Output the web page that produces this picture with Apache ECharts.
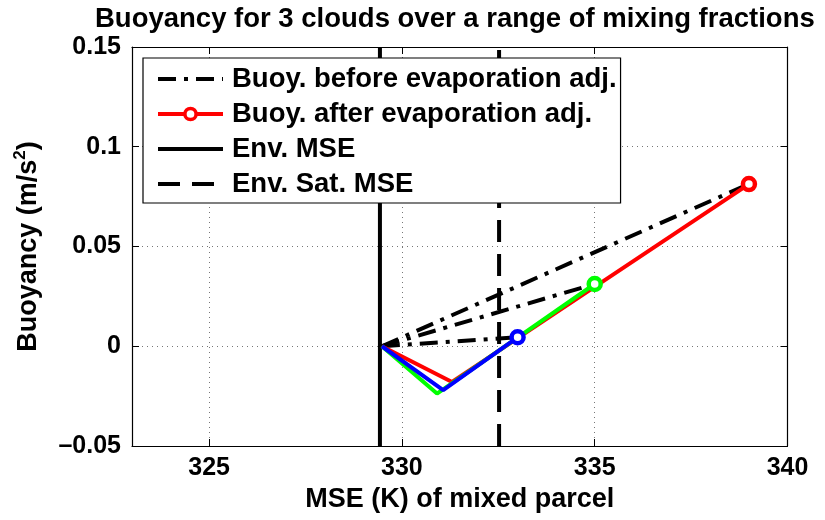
<!DOCTYPE html>
<html>
<head>
<meta charset="utf-8">
<script src="https://cdn.jsdelivr.net/npm/echarts@6/dist/echarts.min.js"></script>
<style>html,body{margin:0;padding:0;background:#fff}#c{width:825px;height:520px}</style>
</head>
<body>
<div id="c"></div>
<script>
// ---- data ----
const startMSE = 329.48, startBuoy = 0;
const redMSE   = [startMSE, 331.30, 339.0];
const redBuoy  = [startBuoy, -0.0179, 0.0813];
const greenMSE = [startMSE, 330.91, 335.0];
const greenBuoy= [startBuoy, -0.0237, 0.0312];
const blueMSE  = [startMSE, 331.07, 333.0];
const blueBuoy = [startBuoy, -0.0220, 0.0045];
const envMSE = 329.43;
const envSatMSE = 332.52;
const xRange = [323, 340];
const yRange = [-0.05, 0.15];
const yTickStep = 0.05;
const legendNames = ['Buoy. before evaporation adj.', 'Buoy. after evaporation adj.', 'Env. MSE', 'Env. Sat. MSE'];

const FONT = "'Liberation Sans', Arial, Helvetica, sans-serif";
const DASHDOT = [18, 8, 4, 8];
const DASH = [22, 12];
function afterData(xs, ys) {
  return xs.map((x, i) => ({ value: [x, ys[i]], symbol: i === xs.length - 1 ? 'circle' : 'none' }));
}
function beforeData(xs, ys) {
  return [[xs[0], ys[0]], [xs[xs.length - 1], ys[ys.length - 1]]];
}

const chart = echarts.init(document.getElementById('c'), null, { renderer: 'canvas' });

const afterSeries = (name, color, xs, ys) => ({
  type: 'line', name, data: afterData(xs, ys), symbol: 'circle', symbolSize: 12,
  showSymbol: true, silent: true, z: 4,
  lineStyle: { color, width: 4 },
  itemStyle: { color: '#fff', borderColor: color, borderWidth: 4.5 },
});
const beforeSeries = (xs, ys) => ({
  type: 'line', name: legendNames[0], data: beforeData(xs, ys), symbol: 'none', silent: true, z: 3,
  lineStyle: { color: '#000', width: 4, type: DASHDOT },
  itemStyle: { color: '#000' },
});

chart.setOption({
  animation: false,
  title: {
    text: 'Buoyancy for 3 clouds over a range of mixing fractions',
    left: 90, top: 0,
    textStyle: { fontFamily: FONT, fontWeight: 'bold', fontSize: 27.5, color: '#000' }
  },
  grid: { left: 132, right: 37.5, top: 47, bottom: 74, containLabel: false },
  legend: {
    orient: 'vertical', left: 143, top: 58,
    data: [
      { name: legendNames[0], itemStyle: { opacity: 0 }, lineStyle: { color: '#000', width: 4, type: DASHDOT } },
      { name: legendNames[1], itemStyle: { color: '#fff', borderColor: '#ff0000', borderWidth: 3.5 }, lineStyle: { color: '#ff0000', width: 4 } },
      { name: legendNames[2], itemStyle: { opacity: 0 }, lineStyle: { color: '#000', width: 4 } },
      { name: legendNames[3], itemStyle: { opacity: 0 }, lineStyle: { color: '#000', width: 4, type: DASH } }
    ],
    backgroundColor: '#fff', borderColor: '#000', borderWidth: 1.2, borderRadius: 0,
    padding: [6, 4, 4, 13],
    itemWidth: 65, itemHeight: 14, itemGap: 5,
    textStyle: { fontFamily: FONT, fontWeight: 'bold', fontSize: 27.5, color: '#000', lineHeight: 30, padding: [0, 0, 0, 4] },
    selectedMode: false
  },
  xAxis: [{
    type: 'value', min: xRange[0], max: xRange[1], splitNumber: 3, minInterval: 5, maxInterval: 5,
    name: 'MSE (K) of mixed parcel', nameLocation: 'middle', nameGap: 38,
    nameTextStyle: { fontFamily: FONT, fontWeight: 'bold', fontSize: 27, color: '#000' },
    axisLine: { show: true, onZero: false, lineStyle: { color: '#000', width: 1.2 } },
    axisTick: { show: true, inside: true, length: 7, lineStyle: { color: '#000' } },
    axisLabel: { showMinLabel: false, margin: 10, fontFamily: FONT, fontWeight: 'bold', fontSize: 25, color: '#000' },
    splitLine: { show: true, lineStyle: { color: '#777', width: 1, type: [1, 4] } }
  }, {
    type: 'value', position: 'top', min: xRange[0], max: xRange[1], splitNumber: 3, minInterval: 5, maxInterval: 5,
    axisLine: { show: true, onZero: false, lineStyle: { color: '#000', width: 1.2 } },
    axisTick: { show: true, inside: true, length: 7, lineStyle: { color: '#000' } },
    axisLabel: { show: false }, splitLine: { show: false }
  }],
  yAxis: [{
    type: 'value', min: yRange[0], max: yRange[1], interval: yTickStep,
    name: 'Buoyancy (m/s{sup|2})', nameLocation: 'middle', nameGap: 86,
    nameTextStyle: {
      fontFamily: FONT, fontWeight: 'bold', fontSize: 27, color: '#000', lineHeight: 34,
      rich: { sup: { fontFamily: FONT, fontWeight: 'bold', fontSize: 17, color: '#000', verticalAlign: 'top', lineHeight: 34 } }
    },
    axisLine: { show: true, onZero: false, lineStyle: { color: '#000', width: 1.2 } },
    axisTick: { show: true, inside: true, length: 7, lineStyle: { color: '#000' } },
    axisLabel: {
      margin: 11, fontFamily: FONT, fontWeight: 'bold', fontSize: 25, color: '#000',
      formatter: v => { const r = +(+v).toFixed(3); return r < 0 ? '\u2013' + (-r) : String(r); }
    },
    splitLine: { show: true, lineStyle: { color: '#777', width: 1, type: [1, 4] } }
  }, {
    type: 'value', position: 'right', min: yRange[0], max: yRange[1], interval: yTickStep,
    axisLine: { show: true, onZero: false, lineStyle: { color: '#000', width: 1.2 } },
    axisTick: { show: true, inside: true, length: 7, lineStyle: { color: '#000' } },
    axisLabel: { show: false }, splitLine: { show: false }
  }],
  series: [
    { type: 'line', name: legendNames[2], data: [[envMSE, yRange[0]], [envMSE, yRange[1]]], symbol: 'none', silent: true, z: 2,
      lineStyle: { color: '#000', width: 4 }, itemStyle: { color: '#000' } },
    { type: 'line', name: legendNames[3], data: [[envSatMSE, yRange[0]], [envSatMSE, yRange[1]]], symbol: 'none', silent: true, z: 2,
      lineStyle: { color: '#000', width: 4, type: DASH }, itemStyle: { color: '#000' } },
    beforeSeries(redMSE, redBuoy),
    beforeSeries(greenMSE, greenBuoy),
    beforeSeries(blueMSE, blueBuoy),
    afterSeries(legendNames[1], '#ff0000', redMSE, redBuoy),
    afterSeries('green', '#00ff00', greenMSE, greenBuoy),
    afterSeries('blue', '#0000ff', blueMSE, blueBuoy)
  ]
});
</script>
</body>
</html>
